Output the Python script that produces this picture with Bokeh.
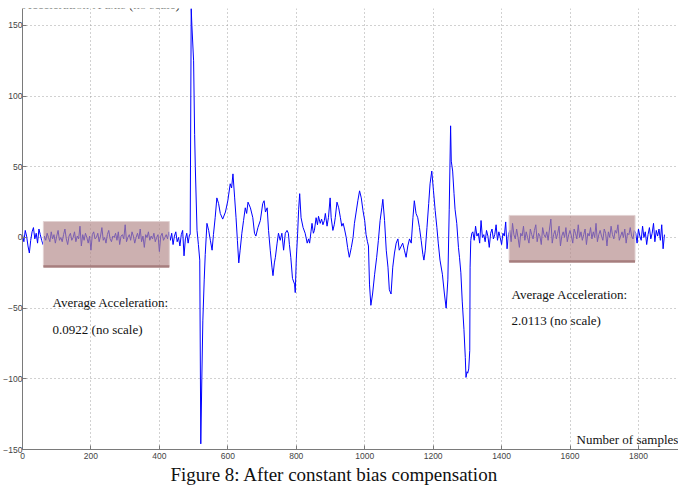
import numpy as np
from bokeh.plotting import figure
from bokeh.models import Range1d, Label, FixedTicker, Title
from bokeh.embed import file_html
from bokeh.resources import INLINE

# ---------------- data ----------------
STEP = 4
# quiet segment before the shock (samples 0..488, step 4)
quiet1_start = 0
quiet1 = [2, -3, 5, 1, -6, -11, -2, 4, 7, -1, 3, -4, 6, 2, -2, -5,
          1, -2, 3, 0, -3, 4, -1, 2, -4, 1, 5, -2, 0, -3, 2, 6, -1, -5, 1, 3, -2, 0, 4, -3, 1, -1, 8, -6, 2, -2,
          3, 0, -4, 1, -9, 2, 4, -1, 0, 3, -3, 1, 7, -2, 0, -4, 2, 5, -1, -3, 1, 0, 3, -2, 4, -5, 1, 2, -1, 9,
          -3, 0, 2, -2, 4, 1, -4, 0, 3, -1, 6, -3, 1, -7, 2, 0, 4, -2, 1, -1, 3, -3, 0, 2, -10, 1, 3, -2, 0, 2,
          -1, 4,
          -2, 3, -5, 1, 4, -3, 0, -6, 2, 5, -13, -1, 3, -4, 2]

# active segment (sample, value)
active_x = [490, 493, 495, 500, 503, 505, 510, 514, 518, 521, 524, 527, 531, 534, 539, 544, 549, 554, 558,
            563, 568, 573, 578, 585, 593, 600, 607, 611, 615, 620, 624, 628, 632, 636, 641, 646, 651, 655,
            659, 666, 673, 678, 682, 688, 695, 702, 706, 710, 715, 719, 724, 729, 732, 736, 739, 744, 748,
            753, 758, 763, 768, 773, 777, 780, 784, 789, 795, 797, 800, 804, 807, 810, 814, 820, 826, 832,
            836, 839, 843, 846, 850, 853, 858, 862, 865, 870, 874, 878, 882, 885, 890, 894, 899, 902, 907,
            911, 914, 919, 924, 929, 933, 937, 941, 946, 950, 955, 961, 966, 970, 975, 980, 985, 990, 995,
            1000, 1004, 1008, 1011, 1014, 1018, 1023, 1029, 1035, 1040, 1045, 1050, 1053, 1058, 1063, 1068,
            1072, 1077, 1082, 1087, 1092, 1097, 1101, 1107, 1111, 1116, 1121, 1126, 1131, 1136, 1141, 1145,
            1150, 1155, 1160, 1165, 1170, 1173, 1177, 1182, 1187, 1191, 1196, 1201, 1206, 1211, 1215, 1220,
            1227, 1233, 1238, 1243, 1247, 1251, 1253, 1257, 1261, 1264, 1269, 1274, 1277, 1281, 1285, 1290,
            1294, 1296, 1299, 1301, 1304, 1307, 1308, 1310, 1313]
active_y = [2, 162, 150, 125, 73, 50, 5, -5, -16, -146, -100, -59, -30, -12, 10, 5, -2, -9, 2,
            14, 28, 24, 17, 13, 18, 26, 38, 35, 45, 28, 14, -2, -18, -9, 3, 12, 21, 17,
            25, 21, 14, 3, 1, 7, 12, 24, 26, 18, 21, 5, -9, -21, -27, -18, -14, -4, 3,
            -2, 3, -9, 3, 5, 3, -5, -14, -29, -33, -39, -16, 3, 20, 31, 14, 7, 3, -4,
            -1, -4, 4, 10, 3, 5, 14, 9, 15, 10, 13, 9, 12, 17, 8, 14, 28, 14, 5,
            9, 14, 25, 21, 14, 8, 10, 6, 0, -7, -14, -7, 0, 10, 18, 26, 33, 28, 19,
            12, 2, -3, -6, -33, -48, -40, -26, -14, -2, 12, 21, 27, 12, -9, -21,
            -37, -40, -21, -11, -4, -1, -9, -6, -4, -9, -14, -6, -1, -4, 14, 26,
            17, 14, 7, -2, -12, -16, -9, 7, 24, 38, 47, 33, 19, 7, -4, -16,
            -26, -40, -50, -30, 20, 79, 54, 47, 31, 20, 10, -7, -14, -25, -45, -65,
            -85, -99, -95, -96, -93, -80, -21, -2, 3]

# quiet segment after the shock (samples 1316..1876, step 4)
quiet2_start = 1316
quiet2 = [4, -2, 8, 1, 3, -4, 12, 0, 2, -3, 5, 1, -7, 3, 6, -1, 2, 9, -2, 4, 0, -5, 3, 1, 11, -8, 2,
          5, -3, 10, 2, -1, 6, 0, -7, 3, 1, 8, -2, 4, 0, -4, 6, 2, -1, 5, 9, -3, 3, 1, -5, 7, 2, 0, 4,
          -2, 6, 13, -4, 2, 5, -1, 3, 8, -6, 1, 4, 0, 7, -3, 2, 5, 1, -4, 6, 3, -1, 9, 0, 4, -2, 2, 6,
          -5, 3, 1, 7, -1, 4, 0, 10, -3, 2, 5, 1, -2, 6, 3, -6, 4, 0, 8, 2, -1, 5, 3, 9, -2, 1, 4, 0,
          6, -4, 3, 2, 7, 1, -1, 5,
          3, -4, 6, 1, -2, 8, 0, 4, -5, 2, 7, -1, 3, 10, -3, 5, 1, 6, -2, 9, -8, 2]

x_ticks = [0, 200, 400, 600, 800, 1000, 1200, 1400, 1600, 1800]
y_ticks = [-150, -100, -50, 0, 50, 100, 150]

# highlighted windows (samples / value)
box_left = [61, 1422]
box_right = [429, 1790]
box_bottom = [-20.5, -17]
box_top = [11.3, 15.6]

avg_title = ["Average Acceleration:", "Average Acceleration:"]
avg_value = ["0.0922 (no scale)", "2.0113 (no scale)"]
caption = "Figure 8: After constant bias compensation"

# ---------------- build series ----------------
x1 = quiet1_start + np.arange(len(quiet1)) * STEP
y1 = np.array(quiet1, dtype=float)
m1 = x1 < active_x[0]
x2 = quiet2_start + np.arange(len(quiet2)) * STEP
y2 = np.array(quiet2, dtype=float)
xs = np.concatenate([x1[m1], np.array(active_x), x2])
ys = np.concatenate([y1[m1], np.array(active_y, dtype=float), y2])

# ---------------- figure ----------------
p = figure(width=678, height=485, output_backend="svg", toolbar_location=None,
           x_range=Range1d(0, 1917), y_range=Range1d(-150, 162),
           min_border_left=18, min_border_right=0, min_border_top=8, min_border_bottom=36)
p.outline_line_color = None
p.background_fill_color = "white"
p.border_fill_color = "white"

p.line(xs, ys, line_color="#0000ff", line_width=1)

# boxes on top of the signal
p.quad(left=box_left, right=box_right, bottom=box_bottom, top=box_top,
       fill_color="#b48a8a", fill_alpha=0.68, line_color="#e2d2d2", line_width=1)
p.segment(x0=box_left, x1=box_right, y0=box_bottom, y1=box_bottom,
          line_color="#a07474", line_width=2.5, line_alpha=0.9)

# axes styling
for ax in (p.xaxis, p.yaxis):
    ax.axis_line_color = "#7a7a7a"
    ax.major_tick_line_color = "#7a7a7a"
    ax.major_tick_in = 4
    ax.major_tick_out = 0
    ax.minor_tick_line_color = None
    ax.major_label_text_font = "Liberation Sans"
    ax.major_label_text_font_size = "8.5px"
    ax.major_label_text_color = "#444444"
p.xaxis.ticker = FixedTicker(ticks=x_ticks)
p.yaxis.ticker = FixedTicker(ticks=y_ticks)
p.xaxis.major_label_standoff = 3
p.yaxis.major_label_standoff = 0

for g in (p.xgrid, p.ygrid):
    g.grid_line_color = "#999999"
    g.grid_line_dash = "1 3"
    g.grid_line_alpha = 0.9
p.xgrid.ticker = FixedTicker(ticks=x_ticks)
p.ygrid.ticker = FixedTicker(ticks=y_ticks)

serif = "Liberation Serif"
def lab(x, y, t, size="13px", **kw):
    p.add_layout(Label(x=x, y=y, text=t, text_font=serif, text_font_size=size,
                       text_color="#111111", text_baseline="alphabetic", **kw))

lab(88, -46, avg_title[0])
lab(88, -65, avg_value[0])
lab(1429, -40.3, avg_title[1])
lab(1429, -58.7, avg_value[1])
lab(1619, -143, "Number of samples")
lab(0, 164.8, "Acceleration X axis (no scale)")

cap = Title(text=caption, align="left", offset=148, standoff=0,
            text_font=serif, text_font_size="19px", text_font_style="normal",
            text_color="#111111")
p.add_layout(cap, "below")

open("out.html", "w").write(file_html(p, INLINE))
